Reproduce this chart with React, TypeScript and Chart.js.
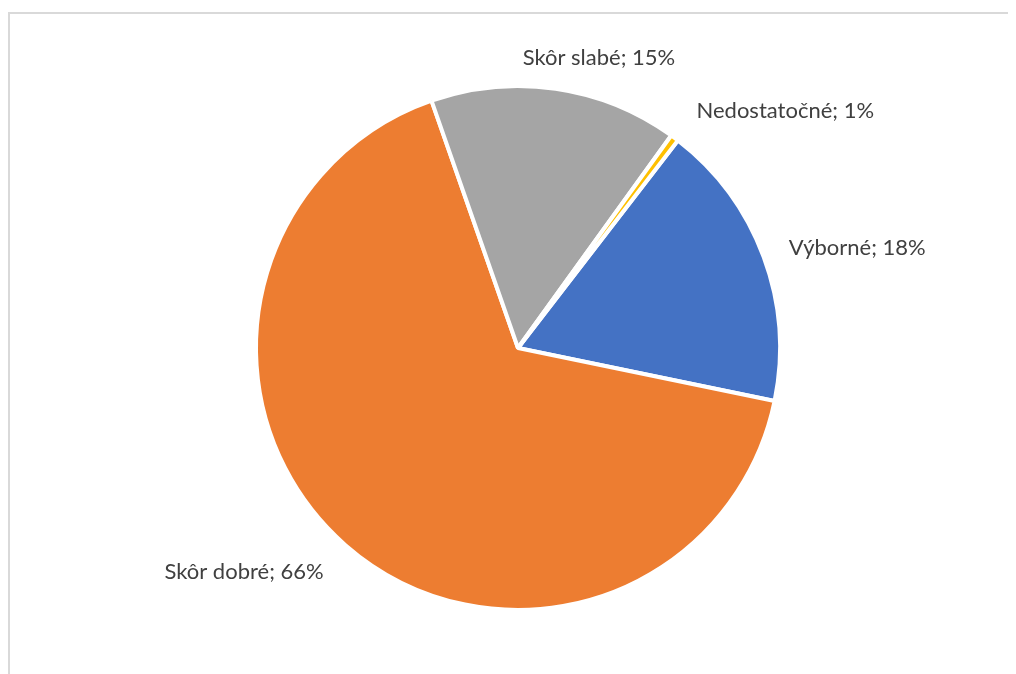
import React, { useEffect, useRef } from "react";
import { Chart, registerables } from "chart.js";

Chart.register(...registerables);

const categories = ["Výborné", "Skôr dobré", "Skôr slabé", "Nedostatočné"];
const values = [17.8, 66.4, 15.3, 0.5];
const colors = ["#4472C4", "#ED7D31", "#A5A5A5", "#FFC000"];
// small per-label nudges (px) applied after placing labels outside the arc
const labelNudges: [number, number][] = [
  [-3, 1],
  [-2, 4],
  [39, -1],
  [4, -2.5],
];

const labelPlugin = {
  id: "outsideLabels",
  afterDatasetsDraw(chart: any) {
    const ctx = chart.ctx;
    const meta = chart.getDatasetMeta(0);
    const total = values.reduce((a, b) => a + b, 0);
    ctx.save();
    ctx.font = "22px Lato";
    ctx.fillStyle = "#404040";
    ctx.textBaseline = "middle";
    meta.data.forEach((arc: any, i: number) => {
      const { x, y, startAngle, endAngle, outerRadius } = arc.getProps(
        ["x", "y", "startAngle", "endAngle", "outerRadius"],
        true
      );
      const mid = (startAngle + endAngle) / 2;
      const R = outerRadius + 30;
      const c = Math.cos(mid);
      const px = x + R * c + labelNudges[i][0];
      const py = y + R * Math.sin(mid) + labelNudges[i][1];
      ctx.textAlign = Math.abs(c) < 0.3 ? "center" : c > 0 ? "left" : "right";
      const pct = Math.round((values[i] / total) * 100);
      ctx.fillText(`${categories[i]}; ${pct}%`, px, py);
    });
    ctx.restore();
  },
};

export default function App() {
  const ref = useRef<HTMLCanvasElement>(null);
  useEffect(() => {
    document.documentElement.style.overflow = "hidden";
    document.body.style.overflow = "hidden";
    if (!ref.current) return;
    const chart = new Chart(ref.current, {
      type: "pie",
      data: {
        labels: categories,
        datasets: [
          {
            data: values,
            backgroundColor: colors,
            borderColor: "#ffffff",
            borderWidth: 4,
          },
        ],
      },
      options: {
        responsive: false,
        animation: false,
        rotation: 37.6,
        radius: 262,
        layout: { padding: { left: 247, right: 239, top: 73, bottom: 65 } },
        plugins: {
          legend: { display: false },
          tooltip: { enabled: false },
        },
      },
      plugins: [labelPlugin],
    });
    return () => chart.destroy();
  }, []);
  return (
    <div
      style={{
        marginTop: 4,
        width: 1008,
        height: 680,
        borderTop: "2px solid #d9d9d9",
        borderLeft: "2px solid #d9d9d9",
        borderBottom: "2px solid #d9d9d9",
        boxSizing: "border-box",
        overflow: "hidden",
      }}
    >
      <canvas ref={ref} width={1008} height={660} style={{ display: "block" }} />
    </div>
  );
}
